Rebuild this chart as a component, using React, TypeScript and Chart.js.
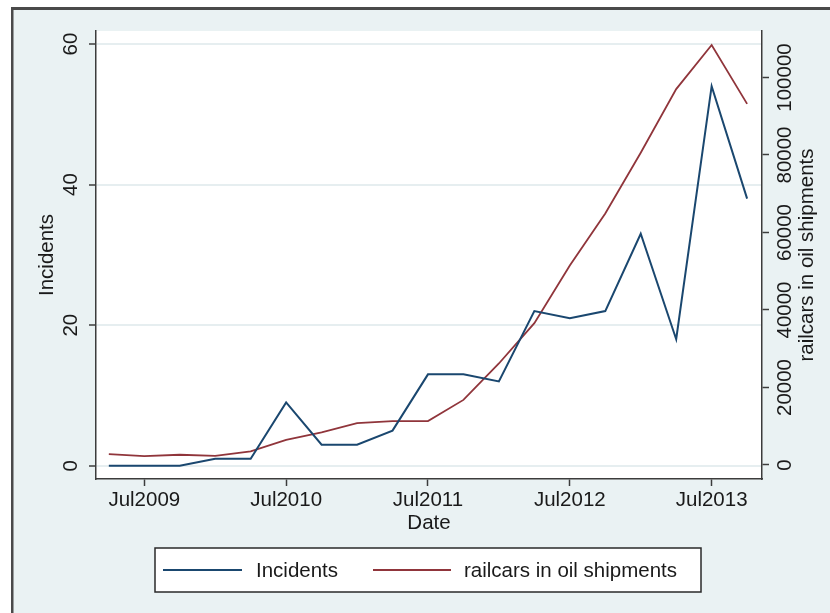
import React, { useEffect, useRef } from "react";
import { Chart, registerables } from "chart.js";

Chart.register(...registerables);

const quarters = [
  "2009Q2", "2009Q3", "2009Q4", "2010Q1", "2010Q2", "2010Q3", "2010Q4",
  "2011Q1", "2011Q2", "2011Q3", "2011Q4", "2012Q1", "2012Q2", "2012Q3",
  "2012Q4", "2013Q1", "2013Q2", "2013Q3", "2013Q4",
];
const incidents = [0, 0, 0, 1, 1, 9, 3, 3, 5, 13, 13, 12, 22, 21, 22, 33, 18, 54, 38];
const railcars = [
  2800, 2300, 2650, 2350, 3500, 6500, 8450, 10800, 11300, 11350, 16800,
  26200, 36600, 51500, 64900, 80600, 97000, 108400, 93200,
];
const xTickQuarters = ["2009Q3", "2010Q3", "2011Q3", "2012Q3", "2013Q3"];
const xTickLabels = ["Jul2009", "Jul2010", "Jul2011", "Jul2012", "Jul2013"];
const yLeftTicks = [0, 20, 40, 60];
const yRightTicks = [0, 20000, 40000, 60000, 80000, 100000];

const seriesLabels = ["Incidents", "railcars in oil shipments"];
const xTitle = "Date";
const yLeftTitle = "Incidents";
const yRightTitle = "railcars in oil shipments";

// quarter string -> quarters since Jul2009
const qIndex = (q: string) => {
  const y = parseInt(q.slice(0, 4), 10);
  const n = parseInt(q.slice(5), 10);
  return (y - 2009) * 4 + (n - 3);
};

const FONT = "'Liberation Sans', Arial, Helvetica, sans-serif";
const FS = 20.5;
const TEXT = "#1a1a1a";
const AXIS = "#3c3c3c";
const BG = "#eaf2f3";
const GRID = "#e6eef0";
const BLUE = "#1a476f";
const RED = "#90353b";

const framePlugin = {
  id: "frame",
  beforeDraw(chart: any) {
    const { ctx, width, height, chartArea } = chart;
    ctx.save();
    ctx.fillStyle = "#ffffff";
    ctx.fillRect(0, 0, width, height);
    ctx.fillStyle = BG;
    ctx.fillRect(11, 7, width - 11, height - 7);
    ctx.fillStyle = "#4a4a4a";
    ctx.fillRect(11, 7, width - 11, 3);
    ctx.fillRect(11, 7, 2.5, height - 7);
    ctx.fillStyle = "#ffffff";
    ctx.fillRect(chartArea.left, chartArea.top, chartArea.right - chartArea.left, chartArea.bottom - chartArea.top);
    ctx.restore();
  },
  afterDraw(chart: any) {
    const { ctx, chartArea } = chart;
    ctx.save();
    // right axis title
    ctx.font = `${FS}px ${FONT}`;
    ctx.fillStyle = TEXT;
    ctx.textAlign = "center";
    ctx.textBaseline = "middle";
    ctx.translate(807, (chartArea.top + chartArea.bottom) / 2);
    ctx.rotate(-Math.PI / 2);
    ctx.fillText(yRightTitle, 0, 0);
    ctx.restore();

    // legend
    ctx.save();
    const bx = 155, by = 548, bw = 546, bh = 44;
    ctx.fillStyle = "#ffffff";
    ctx.fillRect(bx, by, bw, bh);
    ctx.strokeStyle = "#2a2a2a";
    ctx.lineWidth = 1.5;
    ctx.strokeRect(bx, by, bw, bh);
    const cy = by + bh / 2;
    const items = [
      { x0: 163, x1: 242, tx: 256 },
      { x0: 373, x1: 451, tx: 464 },
    ];
    ctx.font = `${FS}px ${FONT}`;
    ctx.textAlign = "left";
    ctx.textBaseline = "middle";
    chart.data.datasets.forEach((ds: any, i: number) => {
      const it = items[i];
      ctx.strokeStyle = ds.borderColor;
      ctx.lineWidth = ds.borderWidth;
      ctx.beginPath();
      ctx.moveTo(it.x0, cy);
      ctx.lineTo(it.x1, cy);
      ctx.stroke();
      ctx.fillStyle = TEXT;
      ctx.fillText(ds.label, it.tx, cy + 1);
    });
    ctx.restore();
  },
};

export default function App() {
  const ref = useRef<HTMLCanvasElement | null>(null);

  useEffect(() => {
    if (!ref.current) return;
    const xs = quarters.map(qIndex);
    const chart = new Chart(ref.current, {
      type: "line",
      data: {
        datasets: [
          {
            label: seriesLabels[0],
            data: xs.map((x, i) => ({ x, y: incidents[i] })),
            borderColor: BLUE,
            borderWidth: 2,
            pointRadius: 0,
            tension: 0,
            yAxisID: "y",
          },
          {
            label: seriesLabels[1],
            data: xs.map((x, i) => ({ x, y: railcars[i] })),
            borderColor: RED,
            borderWidth: 1.8,
            pointRadius: 0,
            tension: 0,
            yAxisID: "y1",
          },
        ],
      },
      options: {
        animation: false,
        responsive: false,
        maintainAspectRatio: false,
        layout: { padding: { left: 0, right: 0, top: 31, bottom: 0 } },
        plugins: { legend: { display: false }, tooltip: { enabled: false } },
        scales: {
          x: {
            type: "linear",
            min: -1.362,
            max: 17.42,
            afterBuildTicks: (s: any) => {
              s.ticks = xTickQuarters.map((q) => ({ value: qIndex(q) }));
            },
            afterFit: (s: any) => {
              s.height = 134;
            },
            ticks: {
              autoSkip: false,
              maxRotation: 0,
              minRotation: 0,
              padding: 2,
              color: TEXT,
              font: { family: FONT, size: FS },
              callback: (v: any) => {
                const i = xTickQuarters.findIndex((q) => qIndex(q) === v);
                return i >= 0 ? xTickLabels[i] : "";
              },
            },
            grid: {
              drawOnChartArea: false,
              drawTicks: true,
              tickLength: 7,
              tickColor: AXIS,
              tickWidth: 1.5,
            },
            border: { display: true, color: AXIS, width: 1.5 },
            title: {
              display: true,
              text: xTitle,
              color: TEXT,
              font: { family: FONT, size: FS },
              padding: { top: 0, bottom: 77.5 },
            },
          },
          y: {
            type: "linear",
            position: "left",
            min: -1.89,
            max: 61.85,
            afterBuildTicks: (s: any) => {
              s.ticks = yLeftTicks.map((v) => ({ value: v }));
            },
            afterFit: (s: any) => {
              s.width = 96;
            },
            ticks: {
              autoSkip: false,
              minRotation: 90,
              maxRotation: 90,
              crossAlign: "center",
              padding: 6,
              color: TEXT,
              font: { family: FONT, size: FS },
            },
            grid: {
              drawOnChartArea: true,
              color: GRID,
              lineWidth: 2,
              tickLength: 7,
              tickColor: AXIS,
              tickWidth: 1.5,
            },
            border: { display: true, color: AXIS, width: 1.5 },
            title: {
              display: true,
              text: yLeftTitle,
              color: TEXT,
              font: { family: FONT, size: FS },
              padding: { top: 35, bottom: 0 },
            },
          },
          y1: {
            type: "linear",
            position: "right",
            min: -3613,
            max: 112000,
            afterBuildTicks: (s: any) => {
              s.ticks = yRightTicks.map((v) => ({ value: v }));
            },
            afterFit: (s: any) => {
              s.width = 68;
            },
            ticks: {
              autoSkip: false,
              minRotation: 90,
              maxRotation: 90,
              crossAlign: "center",
              padding: -18,
              color: TEXT,
              font: { family: FONT, size: FS },
              callback: (v: any) => String(v),
            },
            grid: {
              drawOnChartArea: false,
              tickLength: 7,
              tickColor: AXIS,
              tickWidth: 1.5,
            },
            border: { display: true, color: AXIS, width: 1.5 },
          },
        },
      } as any,
      plugins: [framePlugin],
    });
    return () => chart.destroy();
  }, []);

  return (
    <div style={{ position: "absolute", left: 0, top: 0, width: 830, height: 613 }}>
      <canvas ref={ref} width={830} height={613} style={{ display: "block" }} />
    </div>
  );
}
